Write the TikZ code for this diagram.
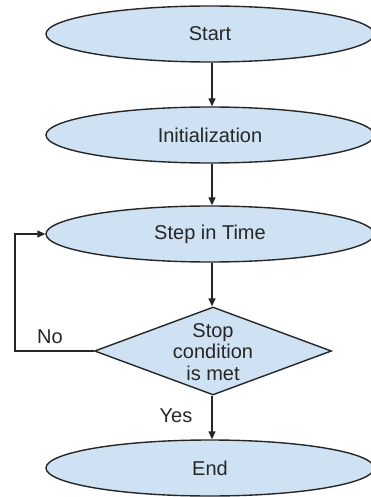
\documentclass[tikz,border=0pt]{standalone}
\usepackage{fontspec}
\setmainfont{Liberation Sans}
\usetikzlibrary{shapes.geometric,arrows.meta}
\definecolor{boxfill}{HTML}{CFE2F3}
\definecolor{ink}{HTML}{262626}
\begin{document}
\begin{tikzpicture}[x=1pt,y=-1pt,
  every node/.style={font=\fontsize{20}{21.5}\selectfont, text=ink},
  oval/.style={ellipse, draw=ink, fill=boxfill, line width=1.4pt,
    minimum width=328pt, minimum height=56pt, inner sep=0pt},
  decision/.style={diamond, draw=ink, fill=boxfill, line width=1.4pt,
    minimum width=237pt, minimum height=88pt, inner sep=0pt},
  flow/.style={draw=ink, line width=1.4pt, -{Triangle[length=8pt,width=7pt]}},
  tag/.style={inner sep=0pt}]
\useasboundingbox (0,0) rectangle (371,497);

\node[oval] (start) at (210,34) {Start};
\node[oval] (init) at (210,135) {Initialization};
\node[oval] (step) at (210,234) {Step in Time};
\node[decision] (cond) at (213,351) {};
\node[align=center, inner sep=0pt] (condtext) at (213,352) {Stop\\condition\\is met};
\node[oval] (end) at (210,468) {End};

\coordinate (loopdown) at (15,351);
\coordinate (loopup) at (15,234);

\draw[flow] (start.south -| 212,0) -- (init.north -| 212,0);
\draw[flow] (init.south -| 212,0) -- (step.north -| 212,0);
\draw[flow] (step.south -| 212,0) -- (cond.north -| 212,0);
\draw[flow] (cond.south -| 212,0) -- (end.north -| 212,0);
\draw[flow] (cond.west) -- (loopdown) -- (loopup) -- (step.west);

\node[tag] (no) at (50,337) {No};
\node[tag] (yes) at (176,416) {Yes};
\end{tikzpicture}
\end{document}
